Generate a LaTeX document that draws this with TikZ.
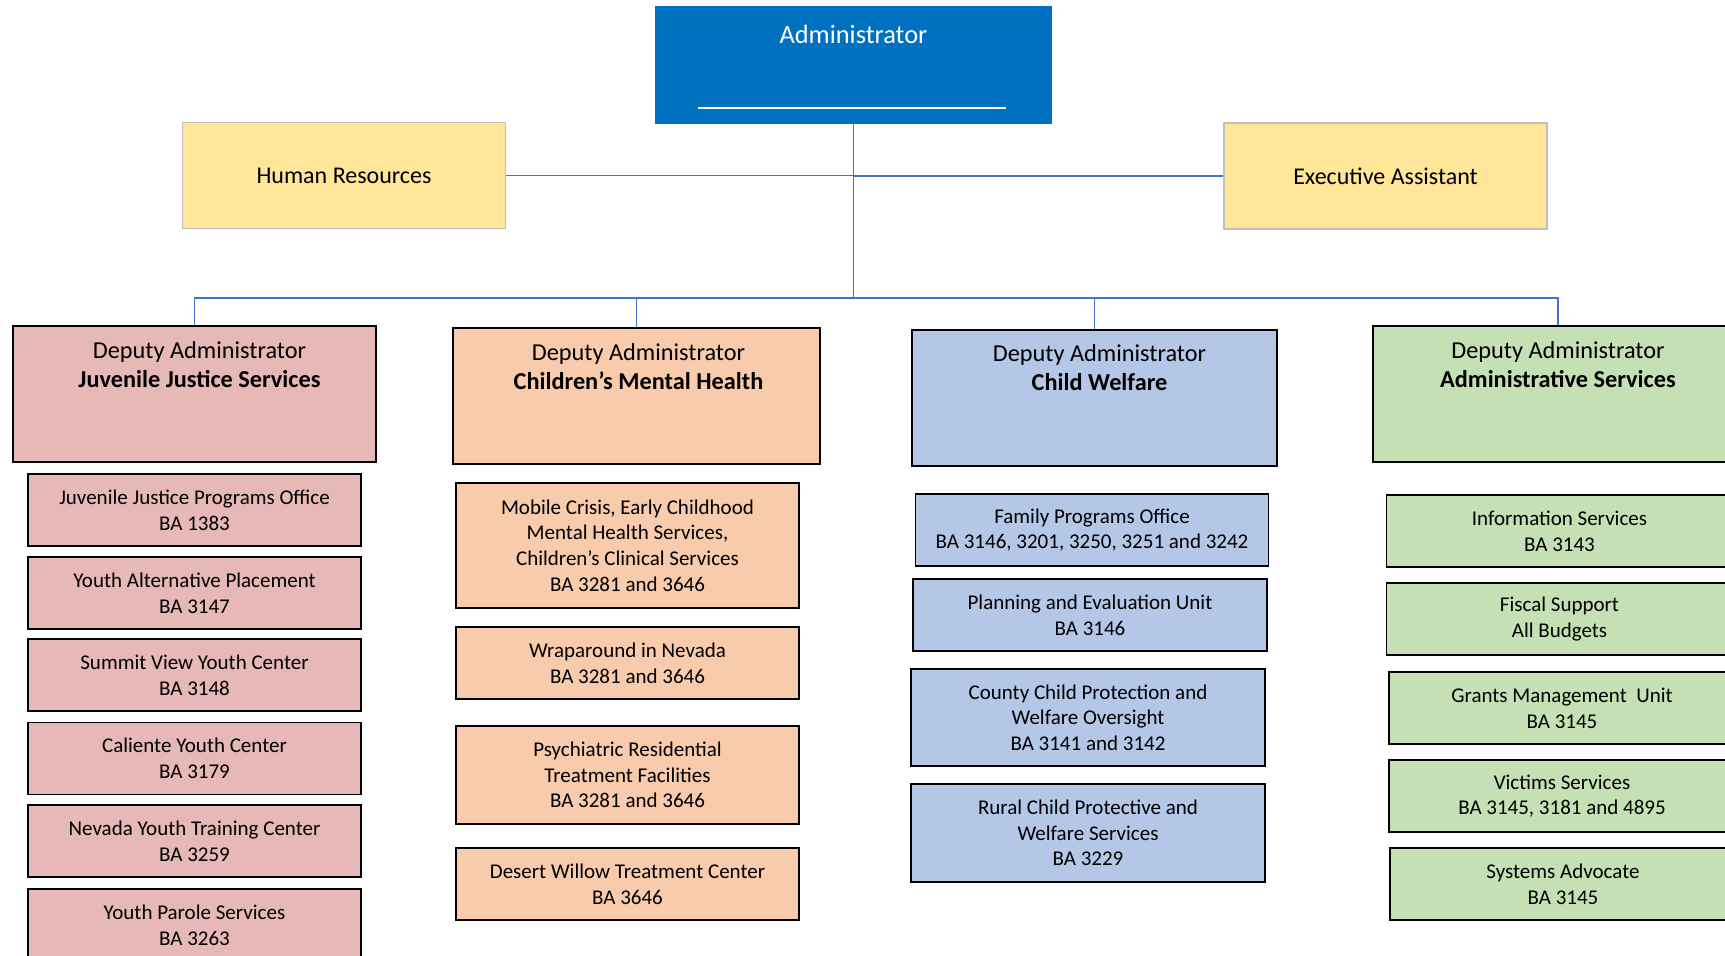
\documentclass[tikz,border=0pt]{standalone}
\usepackage{fontspec}
\setmainfont{Carlito}

\definecolor{adminBlue}{HTML}{0070C0}
\definecolor{staffYellow}{HTML}{FFE699}
\definecolor{staffGray}{HTML}{BFBFBF}
\definecolor{jjsPink}{HTML}{E6B8B7}
\definecolor{cmhPeach}{HTML}{F8CBAD}
\definecolor{cwBlue}{HTML}{B4C7E7}
\definecolor{asGreen}{HTML}{C5E0B4}
\definecolor{lineBlue}{HTML}{4472C4}

\begin{document}
\begin{tikzpicture}[x = 1pt, y = -1pt]
	\tikzstyle{adminStyle}=[shape = rectangle, fill = adminBlue, minimum width = 397pt, minimum height = 118pt, inner sep = 0pt]
	\tikzstyle{staffStyle}=[shape = rectangle, fill = staffYellow, draw = staffGray, line width = 1.8pt, minimum width = 323pt, minimum height = 106pt, font = \fontsize{24}{29.3}\selectfont]
	\tikzstyle{deputyStyle}=[shape = rectangle, draw = black, line width = 2pt, minimum height = 136pt]
	\tikzstyle{headStyle}=[anchor = north, yshift = -16pt, align = center, inner sep = 0pt, font = \fontsize{24.3}{29.3}\selectfont]
	\tikzstyle{unitStyle}=[shape = rectangle, draw = black, line width = 1.8pt, minimum height = 72pt, align = center, inner sep = 2pt, font = \fontsize{21}{25.7}\selectfont]
	\tikzstyle{edgeStyle}=[draw = lineBlue, line width = 1.6pt]
	\path[fill = white, use as bounding box] (0,0) rectangle (1725,956);
	\clip (0,0) rectangle (1725,956);
	% top of the chart
	\node[adminStyle, label = {[headStyle, yshift = -3pt, text = white, font = \fontsize{26.4}{31}\selectfont]north:{Administrator}}] (adm) at (853.5,65) {};
	\draw[white, line width = 1.2pt] (698,108) -- (1006,108);
	\node[staffStyle] (hr) at (344,175.5) {Human Resources};
	\node[staffStyle] (ea) at (1385.5,176) {Executive Assistant};
	% deputies
	\node[deputyStyle, fill = jjsPink, minimum width = 363pt, label = {[headStyle, xshift = 5pt]north:{Deputy Administrator\\\textbf{Juvenile Justice Services}}}] (jjs) at (194.5,394) {};
	\node[deputyStyle, fill = cmhPeach, minimum width = 367pt, label = {[headStyle, xshift = 2pt]north:{Deputy Administrator\\\textbf{Children’s Mental Health}}}] (cmh) at (636.5,396) {};
	\node[deputyStyle, fill = cwBlue, minimum width = 365pt, label = {[headStyle, xshift = 5pt]north:{Deputy Administrator\\\textbf{Child Welfare}}}] (cw) at (1094.5,397.5) {};
	\node[deputyStyle, fill = asGreen, minimum width = 370pt, label = {[headStyle]north:{Deputy Administrator\\\textbf{Administrative Services}}}] (as) at (1558,394) {};
	% juvenile justice units
	\node[unitStyle, fill = jjsPink, minimum width = 333pt] (jj1) at (194.5,510) {Juvenile Justice Programs Office\\BA 1383};
	\node[unitStyle, fill = jjsPink, minimum width = 333pt] (jj2) at (194.5,593) {Youth Alternative Placement\\BA 3147};
	\node[unitStyle, fill = jjsPink, minimum width = 333pt] (jj3) at (194.5,675) {Summit View Youth Center\\BA 3148};
	\node[unitStyle, fill = jjsPink, minimum width = 333pt] (jj4) at (194.5,758.5) {Caliente Youth Center\\BA 3179};
	\node[unitStyle, fill = jjsPink, minimum width = 333pt] (jj5) at (194.5,841) {Nevada Youth Training Center\\BA 3259};
	\node[unitStyle, fill = jjsPink, minimum width = 333pt] (jj6) at (194.5,925) {Youth Parole Services\\BA 3263};
	% mental health units
	\node[unitStyle, fill = cmhPeach, minimum width = 343pt, minimum height = 125pt] (mh1) at (627.5,545.5) {Mobile Crisis, Early Childhood\\Mental Health Services,\\Children’s Clinical Services\\BA 3281 and 3646};
	\node[unitStyle, fill = cmhPeach, minimum width = 343pt] (mh2) at (627.5,663) {Wraparound in Nevada\\BA 3281 and 3646};
	\node[unitStyle, fill = cmhPeach, minimum width = 343pt, minimum height = 98pt] (mh3) at (627.5,775) {Psychiatric Residential\\Treatment Facilities\\BA 3281 and 3646};
	\node[unitStyle, fill = cmhPeach, minimum width = 343pt] (mh4) at (627.5,884) {Desert Willow Treatment Center\\BA 3646};
	% child welfare units
	\node[unitStyle, fill = cwBlue, minimum width = 353pt] (cw1) at (1092,530) {Family Programs Office\\BA 3146, 3201, 3250, 3251 and 3242};
	\node[unitStyle, fill = cwBlue, minimum width = 354pt] (cw2) at (1090,615) {Planning and Evaluation Unit\\BA 3146};
	\node[unitStyle, fill = cwBlue, minimum width = 354pt, minimum height = 97pt] (cw3) at (1088,717.5) {County Child Protection and\\Welfare Oversight\\BA 3141 and 3142};
	\node[unitStyle, fill = cwBlue, minimum width = 354pt, minimum height = 98pt] (cw4) at (1088,833) {Rural Child Protective and\\Welfare Services\\BA 3229};
	% administrative units
	\node[unitStyle, fill = asGreen, minimum width = 346pt] (as1) at (1559.5,531) {Information Services\\BA 3143};
	\node[unitStyle, fill = asGreen, minimum width = 346pt] (as2) at (1559.5,619) {Fiscal Support\\All Budgets};
	\node[unitStyle, fill = asGreen, minimum width = 346pt] (as3) at (1562,708) {Grants Management \ Unit\\BA 3145};
	\node[unitStyle, fill = asGreen, minimum width = 346pt] (as4) at (1562,796) {Victims Services\\BA 3145, 3181 and 4895};
	\node[unitStyle, fill = asGreen, minimum width = 346pt] (as5) at (1563,884) {Systems Advocate\\BA 3145};
	% connectors
	\coordinate (bus) at (853.5,298);
	\draw[edgeStyle] (adm.south) -- (bus);
	\draw[edgeStyle] (hr.east) -- (hr.east -| adm.south);
	\draw[edgeStyle] (ea.west) -- (ea.west -| adm.south);
	\draw[edgeStyle, line width = 1.2pt] (jjs.north) |- (bus) -| (as.north);
	\draw[edgeStyle, line width = 1.2pt] (cmh.north) -- (cmh.north |- bus);
	\draw[edgeStyle, line width = 1.2pt] (cw.north) -- (cw.north |- bus);
\end{tikzpicture}
\end{document}
